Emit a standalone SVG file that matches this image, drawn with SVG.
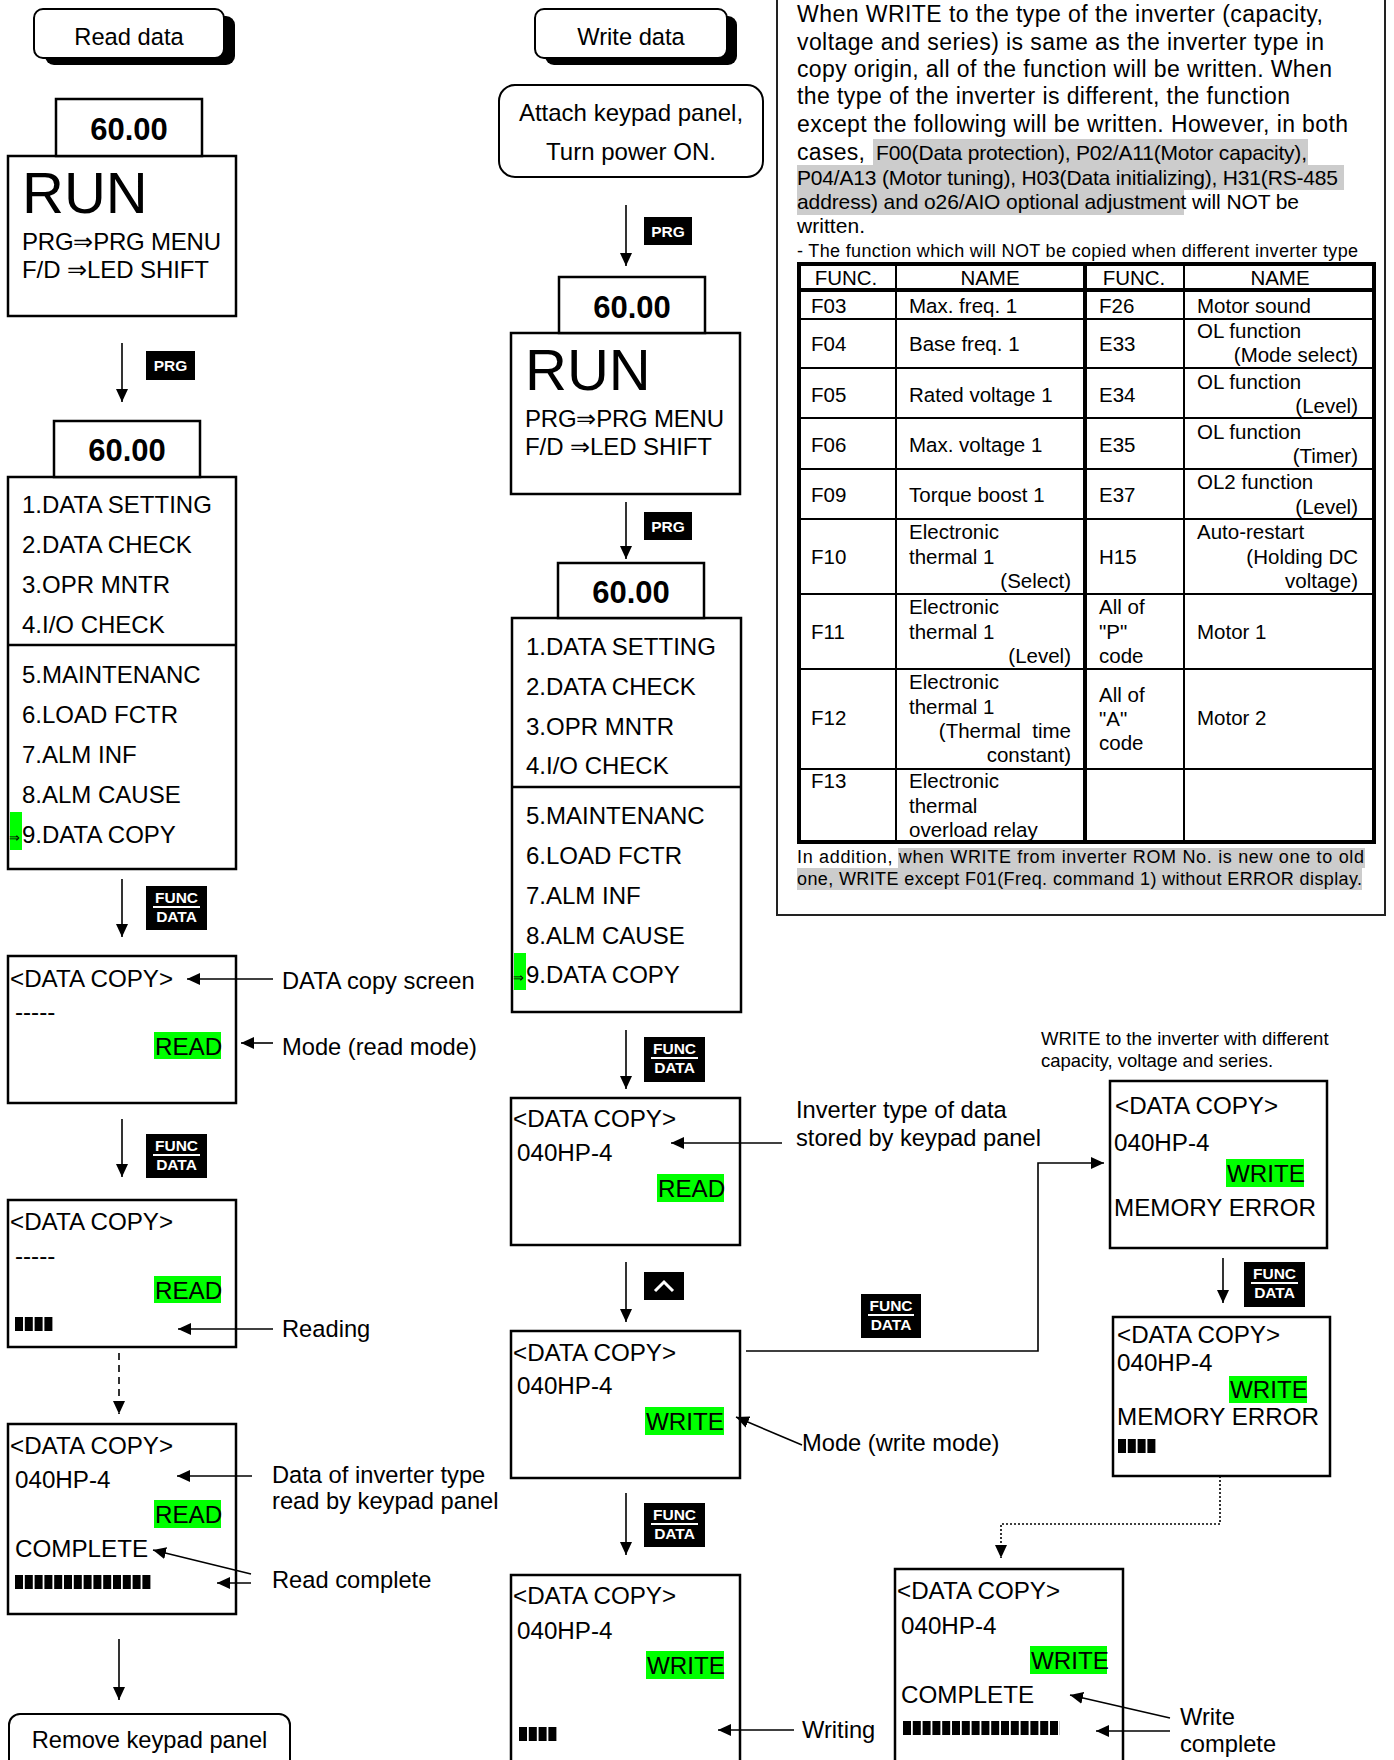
<svg xmlns="http://www.w3.org/2000/svg" width="1394" height="1760" viewBox="0 0 1394 1760">
<defs>
<marker id="ah" markerUnits="userSpaceOnUse" markerWidth="14" markerHeight="14" viewBox="0 0 14 14" refX="13" refY="7" orient="auto"><path d="M0,1 L13,7 L0,13 z" fill="#000"/></marker>
<style>
text { font-family: "Liberation Sans", Arial, sans-serif; fill: #000; }
.s { font-size: 24.2px; }
.m { font-size: 24px; }
.l { font-size: 23.7px; }
.num { font-size: 31px; font-weight: bold; text-anchor: middle; }
.run { font-size: 58px; }
.box { fill: #fff; stroke: #000; stroke-width: 2.5; }
.rbox { fill: #fff; stroke: #000; stroke-width: 2; }
.shadow { fill: #000; }
.badge { fill: #000; }
.bt { font-size: 15.5px; font-weight: bold; fill: #fff; text-anchor: middle; }
.bl { stroke: #fff; stroke-width: 2; }
.grn { fill: #00ff00; }
.hl { fill: #cccccc; }
.bar { stroke: #000; stroke-width: 14; stroke-dasharray: 8 1.8; fill: none; }
.c { stroke: #000; stroke-width: 1.6; fill: none; marker-end: url(#ah); }
.p { font-size: 23px; }
.p2 { font-size: 21px; }
.p3 { font-size: 18px; }
.tb { font-size: 20.5px; }
.tr { text-anchor: end; }
.tc { text-anchor: middle; }
.thin { stroke: #000; stroke-width: 2; }
.thick { stroke: #000; stroke-width: 4; }
.div { stroke: #000; stroke-width: 2.5; }
</style>
</defs>
<rect x="0" y="0" width="1394" height="1760" fill="#fff"/>

<!-- LEFT COLUMN: READ -->
<g id="read-data">
<rect class="shadow" x="45" y="16" width="190" height="49" rx="9"/>
<rect class="rbox" x="34" y="9" width="190" height="49" rx="9"/>
<text class="l tc" x="129" y="45">Read data</text>
</g>

<g id="run-left">
<rect class="box" x="8" y="156" width="228" height="160"/>
<rect class="box" x="56" y="99" width="146" height="57"/>
<text class="num" x="129" y="140">60.00</text>
<text class="run" x="22" y="213">RUN</text>
<text class="m" x="22" y="250" textLength="199">PRG⇒PRG MENU</text>
<text class="m" x="22" y="278" textLength="187">F/D ⇒LED SHIFT</text>
</g>

<g id="prg-badge-l">
<rect class="badge" x="146" y="351" width="49" height="29"/>
<text class="bt" x="170.5" y="371">PRG</text>
</g>

<g id="menu-left">
<rect class="box" x="8" y="477" width="228" height="392"/>
<rect class="box" x="54" y="421" width="146" height="56"/>
<text class="num" x="127" y="461">60.00</text>
<line class="div" x1="8" y1="645" x2="236" y2="645"/>
<text class="m" x="22" y="513">1.DATA SETTING</text>
<text class="m" x="22" y="553">2.DATA CHECK</text>
<text class="m" x="22" y="593">3.OPR MNTR</text>
<text class="m" x="22" y="633">4.I/O CHECK</text>
<text class="m" x="22" y="683">5.MAINTENANC</text>
<text class="m" x="22" y="723">6.LOAD FCTR</text>
<text class="m" x="22" y="763">7.ALM INF</text>
<text class="m" x="22" y="803">8.ALM CAUSE</text>
<rect class="grn" x="10" y="812" width="12" height="38"/>
<text x="9" y="842" font-size="13">⇒</text>
<text class="m" x="22" y="843">9.DATA COPY</text>
</g>

<g id="func-badge-l1">
<rect class="badge" x="146" y="886" width="61" height="44"/>
<text class="bt" x="176.5" y="903">FUNC</text>
<line class="bl" x1="153" y1="907" x2="200" y2="907"/>
<text class="bt" x="176.5" y="922">DATA</text>
</g>

<g id="copy-read-1">
<rect class="box" x="8" y="956" width="228" height="147"/>
<text class="s" x="10" y="987">&lt;DATA COPY&gt;</text>
<text class="s" x="15" y="1020">-----</text>
<rect class="grn" x="154" y="1032" width="67" height="27"/>
<text class="s" x="155" y="1055">READ</text>
</g>
<g id="lbl-copy-screen"><text class="l" x="282" y="989">DATA copy screen</text></g>
<g id="lbl-read-mode"><text class="l" x="282" y="1055">Mode (read mode)</text></g>

<g id="func-badge-l2">
<rect class="badge" x="146" y="1134" width="61" height="44"/>
<text class="bt" x="176.5" y="1151">FUNC</text>
<line class="bl" x1="153" y1="1155" x2="200" y2="1155"/>
<text class="bt" x="176.5" y="1170">DATA</text>
</g>

<g id="copy-read-2">
<rect class="box" x="8" y="1200" width="228" height="147"/>
<text class="s" x="10" y="1230">&lt;DATA COPY&gt;</text>
<text class="s" x="15" y="1264">-----</text>
<rect class="grn" x="154" y="1276" width="67" height="27"/>
<text class="s" x="155" y="1299">READ</text>
<line class="bar" x1="15" y1="1324" x2="53" y2="1324"/>
</g>
<g id="lbl-reading"><text class="l" x="282" y="1337">Reading</text></g>

<g id="copy-read-3">
<rect class="box" x="8" y="1424" width="228" height="190"/>
<text class="s" x="10" y="1454">&lt;DATA COPY&gt;</text>
<text class="s" x="15" y="1488">040HP-4</text>
<rect class="grn" x="154" y="1500" width="67" height="28"/>
<text class="s" x="155" y="1523">READ</text>
<text class="s" x="15" y="1557">COMPLETE</text>
<line class="bar" x1="15" y1="1582" x2="151" y2="1582"/>
</g>
<g id="lbl-data-type">
<text class="l" x="272" y="1483">Data of inverter type</text>
<text class="l" x="272" y="1509">read by keypad panel</text>
</g>
<g id="lbl-read-complete"><text class="l" x="272" y="1588">Read complete</text></g>

<g id="remove-panel">
<rect class="rbox" x="9" y="1714" width="281" height="62" rx="11"/>
<text class="l tc" x="149.5" y="1748">Remove keypad panel</text>
</g>

<!-- MIDDLE COLUMN: WRITE -->
<g id="write-data">
<rect class="shadow" x="545" y="16" width="192" height="49" rx="9"/>
<rect class="rbox" x="535" y="9" width="192" height="49" rx="9"/>
<text class="l tc" x="631" y="45">Write data</text>
</g>

<g id="attach">
<rect class="rbox" x="499" y="85" width="264" height="92" rx="16"/>
<text class="m tc" x="631" y="121">Attach keypad panel,</text>
<text class="m tc" x="631" y="160">Turn power ON.</text>
</g>

<g id="prg-badge-m1">
<rect class="badge" x="644" y="217" width="48" height="28"/>
<text class="bt" x="668" y="237">PRG</text>
</g>

<g id="run-mid">
<rect class="box" x="511" y="333" width="229" height="161"/>
<rect class="box" x="559" y="277" width="146" height="56"/>
<text class="num" x="632" y="318">60.00</text>
<text class="run" x="525" y="390">RUN</text>
<text class="m" x="525" y="427" textLength="199">PRG⇒PRG MENU</text>
<text class="m" x="525" y="455" textLength="187">F/D ⇒LED SHIFT</text>
</g>

<g id="prg-badge-m2">
<rect class="badge" x="644" y="512" width="48" height="28"/>
<text class="bt" x="668" y="532">PRG</text>
</g>

<g id="menu-mid">
<rect class="box" x="512" y="618" width="229" height="394"/>
<rect class="box" x="558" y="563" width="146" height="55"/>
<text class="num" x="631" y="603">60.00</text>
<line class="div" x1="512" y1="787" x2="741" y2="787"/>
<text class="m" x="526" y="655">1.DATA SETTING</text>
<text class="m" x="526" y="695">2.DATA CHECK</text>
<text class="m" x="526" y="735">3.OPR MNTR</text>
<text class="m" x="526" y="774">4.I/O CHECK</text>
<text class="m" x="526" y="824">5.MAINTENANC</text>
<text class="m" x="526" y="864">6.LOAD FCTR</text>
<text class="m" x="526" y="904">7.ALM INF</text>
<text class="m" x="526" y="944">8.ALM CAUSE</text>
<rect class="grn" x="514" y="953" width="12" height="37"/>
<text x="513" y="982" font-size="13">⇒</text>
<text class="m" x="526" y="983">9.DATA COPY</text>
</g>

<g id="func-badge-m1">
<rect class="badge" x="644" y="1037" width="61" height="45"/>
<text class="bt" x="674.5" y="1054">FUNC</text>
<line class="bl" x1="651" y1="1058" x2="698" y2="1058"/>
<text class="bt" x="674.5" y="1073">DATA</text>
</g>

<g id="copy-mid-read">
<rect class="box" x="511" y="1098" width="229" height="147"/>
<text class="s" x="513" y="1127">&lt;DATA COPY&gt;</text>
<text class="s" x="517" y="1161">040HP-4</text>
<rect class="grn" x="657" y="1174" width="67" height="28"/>
<text class="s" x="658" y="1197">READ</text>
</g>
<g id="lbl-stored">
<text class="l" x="796" y="1118">Inverter type of data</text>
<text class="l" x="796" y="1146">stored by keypad panel</text>
</g>

<g id="up-badge">
<rect class="badge" x="644" y="1272" width="40" height="28"/>
<polyline points="655,1291 664,1282 673,1291" fill="none" stroke="#fff" stroke-width="3"/>
</g>

<g id="copy-mid-write">
<rect class="box" x="511" y="1331" width="229" height="147"/>
<text class="s" x="513" y="1361">&lt;DATA COPY&gt;</text>
<text class="s" x="517" y="1394">040HP-4</text>
<rect class="grn" x="645" y="1407" width="79" height="28"/>
<text class="s" x="646" y="1430">WRITE</text>
</g>
<g id="lbl-write-mode"><text class="l" x="802" y="1451">Mode (write mode)</text></g>

<g id="func-badge-m2">
<rect class="badge" x="644" y="1503" width="61" height="44"/>
<text class="bt" x="674.5" y="1520">FUNC</text>
<line class="bl" x1="651" y1="1524" x2="698" y2="1524"/>
<text class="bt" x="674.5" y="1539">DATA</text>
</g>

<g id="copy-mid-writing">
<rect class="box" x="511" y="1575" width="229" height="200"/>
<text class="s" x="513" y="1604">&lt;DATA COPY&gt;</text>
<text class="s" x="517" y="1639">040HP-4</text>
<rect class="grn" x="646" y="1651" width="78" height="28"/>
<text class="s" x="647" y="1674">WRITE</text>
<line class="bar" x1="519" y1="1734" x2="557" y2="1734"/>
</g>
<g id="lbl-writing"><text class="l" x="802" y="1738">Writing</text></g>

<g id="func-badge-conn">
<rect class="badge" x="861" y="1294" width="60" height="44"/>
<text class="bt" x="891" y="1311">FUNC</text>
<line class="bl" x1="868" y1="1315" x2="914" y2="1315"/>
<text class="bt" x="891" y="1330">DATA</text>
</g>

<!-- RIGHT COLUMN -->
<g id="note">
<rect x="777" y="-3" width="608" height="918" fill="none" stroke="#222" stroke-width="2"/>
<rect class="hl" x="873" y="139" width="435" height="26"/>
<rect class="hl" x="797" y="165" width="547" height="25"/>
<rect class="hl" x="797" y="190" width="387" height="25"/>
<text class="p" x="797" y="22" textLength="526">When WRITE to the type of the inverter (capacity,</text>
<text class="p" x="797" y="50" textLength="527">voltage and series) is same as the inverter type in</text>
<text class="p" x="797" y="77" textLength="535">copy origin, all of the function will be written. When</text>
<text class="p" x="797" y="104" textLength="493">the type of the inverter is different, the function</text>
<text class="p" x="797" y="132" textLength="551">except the following will be written. However, in both</text>
<text class="p" x="797" y="160" textLength="68">cases,</text>
<text class="p2" x="876" y="160" textLength="431">F00(Data protection), P02/A11(Motor capacity),</text>
<text class="p2" x="797" y="185" textLength="541">P04/A13 (Motor tuning), H03(Data initializing), H31(RS-485</text>
<text class="p2" x="797" y="209" textLength="502">address) and o26/AIO optional adjustment will NOT be</text>
<text class="p2" x="797" y="233" textLength="68">written.</text>
<text class="p3" x="797" y="257" textLength="561">- The function which will NOT be copied when different inverter type</text>
<rect class="hl" x="898" y="848" width="467" height="20"/>
<rect class="hl" x="797" y="868" width="565" height="22"/>
<text class="p3" x="797" y="863" textLength="567">In addition, when WRITE from inverter ROM No. is new one to old</text>
<text class="p3" x="797" y="885" textLength="565">one, WRITE except F01(Freq. command 1) without ERROR display.</text>
</g>

<g id="table">
<rect x="799" y="264" width="575" height="578" fill="none" stroke="#000" stroke-width="4"/>
<line class="thin" x1="896" y1="264" x2="896" y2="842"/>
<line class="thick" x1="1085" y1="264" x2="1085" y2="842"/>
<line class="thin" x1="1184" y1="264" x2="1184" y2="842"/>
<line class="thick" x1="799" y1="290" x2="1374" y2="290"/>
<line class="thin" x1="799" y1="319" x2="1374" y2="319"/>
<line class="thin" x1="799" y1="368" x2="1374" y2="368"/>
<line class="thin" x1="799" y1="418" x2="1374" y2="418"/>
<line class="thin" x1="799" y1="469" x2="1374" y2="469"/>
<line class="thin" x1="799" y1="519" x2="1374" y2="519"/>
<line class="thin" x1="799" y1="594" x2="1374" y2="594"/>
<line class="thin" x1="799" y1="669" x2="1374" y2="669"/>
<line class="thin" x1="799" y1="769" x2="1374" y2="769"/>
<text class="tb tc" x="846" y="285">FUNC.</text>
<text class="tb tc" x="990" y="285">NAME</text>
<text class="tb tc" x="1134" y="285">FUNC.</text>
<text class="tb tc" x="1280" y="285">NAME</text>
<text class="tb" x="811" y="313">F03</text>
<text class="tb" x="909" y="313">Max. freq. 1</text>
<text class="tb" x="1099" y="313">F26</text>
<text class="tb" x="1197" y="313">Motor sound</text>
<text class="tb" x="811" y="351">F04</text>
<text class="tb" x="909" y="351">Base freq. 1</text>
<text class="tb" x="1099" y="351">E33</text>
<text class="tb" x="1197" y="338">OL function</text>
<text class="tb tr" x="1358" y="362">(Mode select)</text>
<text class="tb" x="811" y="402">F05</text>
<text class="tb" x="909" y="402">Rated voltage 1</text>
<text class="tb" x="1099" y="402">E34</text>
<text class="tb" x="1197" y="389">OL function</text>
<text class="tb tr" x="1358" y="413">(Level)</text>
<text class="tb" x="811" y="452">F06</text>
<text class="tb" x="909" y="452">Max. voltage 1</text>
<text class="tb" x="1099" y="452">E35</text>
<text class="tb" x="1197" y="439">OL function</text>
<text class="tb tr" x="1358" y="463">(Timer)</text>
<text class="tb" x="811" y="502">F09</text>
<text class="tb" x="909" y="502">Torque boost 1</text>
<text class="tb" x="1099" y="502">E37</text>
<text class="tb" x="1197" y="489">OL2 function</text>
<text class="tb tr" x="1358" y="514">(Level)</text>
<text class="tb" x="811" y="564">F10</text>
<text class="tb" x="909" y="539">Electronic</text>
<text class="tb" x="909" y="564">thermal 1</text>
<text class="tb tr" x="1071" y="588">(Select)</text>
<text class="tb" x="1099" y="564">H15</text>
<text class="tb" x="1197" y="539">Auto-restart</text>
<text class="tb tr" x="1358" y="564">(Holding DC</text>
<text class="tb tr" x="1358" y="588">voltage)</text>
<text class="tb" x="811" y="639">F11</text>
<text class="tb" x="909" y="614">Electronic</text>
<text class="tb" x="909" y="639">thermal 1</text>
<text class="tb tr" x="1071" y="663">(Level)</text>
<text class="tb" x="1099" y="614">All of</text>
<text class="tb" x="1099" y="639">"P"</text>
<text class="tb" x="1099" y="663">code</text>
<text class="tb" x="1197" y="639">Motor 1</text>
<text class="tb" x="811" y="725">F12</text>
<text class="tb" x="909" y="689">Electronic</text>
<text class="tb" x="909" y="714">thermal 1</text>
<text class="tb tr" x="1071" y="738" style="white-space:pre">(Thermal  time</text>
<text class="tb tr" x="1071" y="762">constant)</text>
<text class="tb" x="1099" y="702">All of</text>
<text class="tb" x="1099" y="726">"A"</text>
<text class="tb" x="1099" y="750">code</text>
<text class="tb" x="1197" y="725">Motor 2</text>
<text class="tb" x="811" y="788">F13</text>
<text class="tb" x="909" y="788">Electronic</text>
<text class="tb" x="909" y="813">thermal</text>
<text class="tb" x="909" y="837">overload relay</text>
</g>

<g id="lbl-different">
<text font-size="18.5" x="1041" y="1045">WRITE to the inverter with different</text>
<text font-size="18.5" x="1041" y="1067">capacity, voltage and series.</text>
</g>

<g id="copy-mem-error-1">
<rect class="box" x="1110" y="1081" width="217" height="167"/>
<text class="s" x="1115" y="1114">&lt;DATA COPY&gt;</text>
<text class="s" x="1114" y="1151">040HP-4</text>
<rect class="grn" x="1226" y="1159" width="78" height="28"/>
<text class="s" x="1227" y="1182">WRITE</text>
<text class="s" x="1114" y="1216">MEMORY ERROR</text>
</g>

<g id="func-badge-r">
<rect class="badge" x="1244" y="1262" width="61" height="45"/>
<text class="bt" x="1274.5" y="1279">FUNC</text>
<line class="bl" x1="1251" y1="1283" x2="1298" y2="1283"/>
<text class="bt" x="1274.5" y="1298">DATA</text>
</g>

<g id="copy-mem-error-2">
<rect class="box" x="1113" y="1317" width="217" height="159"/>
<text class="s" x="1117" y="1343">&lt;DATA COPY&gt;</text>
<text class="s" x="1117" y="1371">040HP-4</text>
<rect class="grn" x="1229" y="1376" width="78" height="27"/>
<text class="s" x="1230" y="1398">WRITE</text>
<text class="s" x="1117" y="1425">MEMORY ERROR</text>
<line class="bar" x1="1118" y1="1446" x2="1156" y2="1446"/>
</g>

<g id="copy-write-complete">
<rect class="box" x="895" y="1569" width="228" height="206"/>
<text class="s" x="897" y="1599">&lt;DATA COPY&gt;</text>
<text class="s" x="901" y="1634">040HP-4</text>
<rect class="grn" x="1030" y="1646" width="77" height="28"/>
<text class="s" x="1031" y="1669">WRITE</text>
<text class="s" x="901" y="1703">COMPLETE</text>
<line class="bar" x1="903" y1="1728" x2="1060" y2="1728"/>
</g>
<g id="lbl-write-complete">
<text class="l" x="1180" y="1725">Write</text>
<text class="l" x="1180" y="1752">complete</text>
</g>

<!-- CONNECTORS -->
<g id="connectors">
<line class="c" x1="122" y1="343" x2="122" y2="402"/>
<line class="c" x1="122" y1="879" x2="122" y2="937"/>
<line class="c" x1="122" y1="1119" x2="122" y2="1177"/>
<line class="c" x1="119" y1="1353" x2="119" y2="1414" stroke-dasharray="7 5"/>
<line class="c" x1="119" y1="1639" x2="119" y2="1700"/>
<line class="c" x1="626" y1="205" x2="626" y2="266"/>
<line class="c" x1="626" y1="502" x2="626" y2="559"/>
<line class="c" x1="626" y1="1030" x2="626" y2="1089"/>
<line class="c" x1="626" y1="1262" x2="626" y2="1322"/>
<line class="c" x1="626" y1="1493" x2="626" y2="1555"/>
<polyline class="c" points="746,1351 1038,1351 1038,1163 1104,1163" stroke-width="2"/>
<line class="c" x1="1223" y1="1258" x2="1223" y2="1303"/>
<polyline class="c" points="1220,1476 1220,1524 1001,1524 1001,1558" stroke-dasharray="2 2"/>
<line class="c" x1="273" y1="979" x2="187" y2="979"/>
<line class="c" x1="273" y1="1043" x2="241" y2="1043"/>
<line class="c" x1="273" y1="1329" x2="178" y2="1329"/>
<line class="c" x1="252" y1="1476" x2="177" y2="1476"/>
<line class="c" x1="251" y1="1574" x2="153" y2="1550"/>
<line class="c" x1="251" y1="1583" x2="217" y2="1583"/>
<line class="c" x1="782" y1="1143" x2="671" y2="1143"/>
<line class="c" x1="802" y1="1445" x2="736" y2="1417"/>
<line class="c" x1="794" y1="1730" x2="718" y2="1730"/>
<line class="c" x1="1170" y1="1718" x2="1070" y2="1695"/>
<line class="c" x1="1170" y1="1731" x2="1096" y2="1731"/>
</g>
</svg>
